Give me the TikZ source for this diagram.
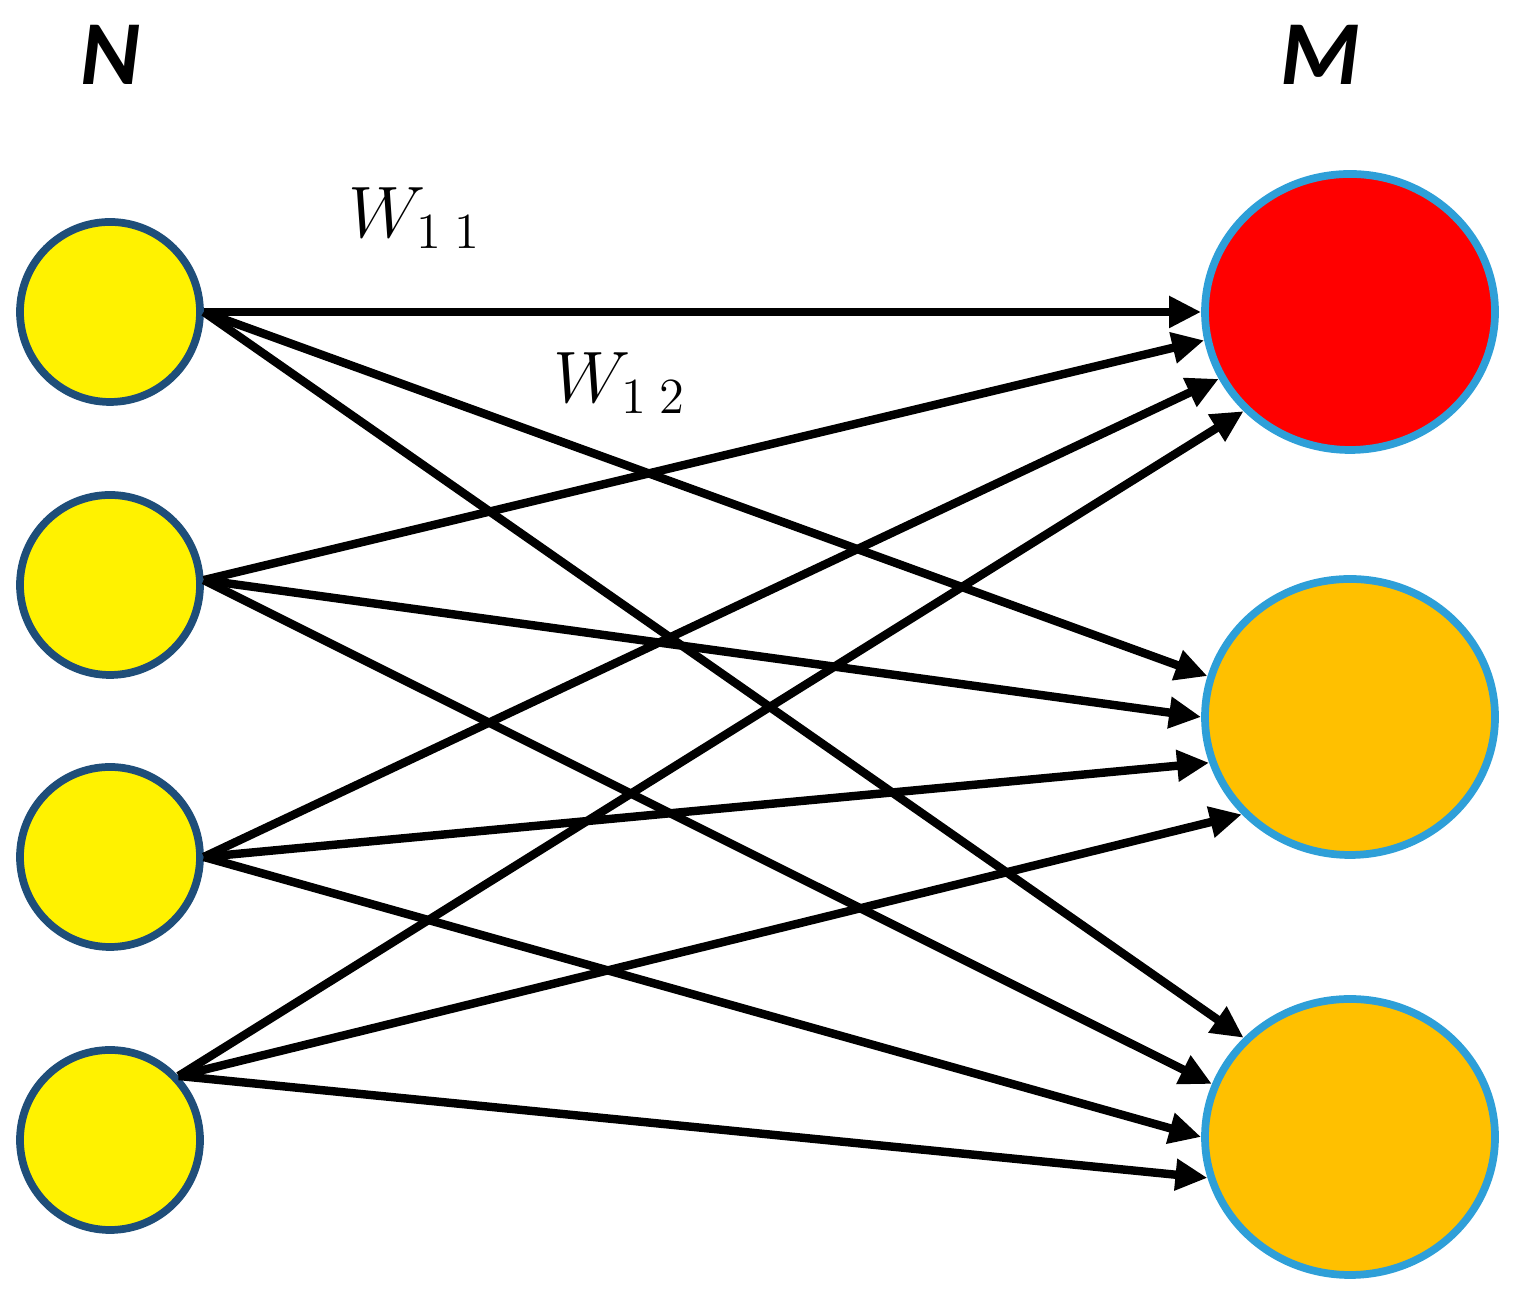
\documentclass[tikz,border=0pt]{standalone}
\usepackage{fontspec}
\setmainfont{Carlito}
\usetikzlibrary{arrows.meta,shapes.geometric}
\definecolor{inborder}{HTML}{1F4E79}
\definecolor{outborder}{HTML}{2E9FD8}
\definecolor{outorange}{HTML}{FFC000}
\begin{document}
\begin{tikzpicture}
  \useasboundingbox (0,0) rectangle (15.19,13.03);
  \tikzset{
    innode/.style={circle,draw=inborder,line width=2.2pt,fill=yellow,minimum size=1.8cm},
    outnode/.style={ellipse,draw=outborder,line width=2.2pt,minimum width=2.9cm,minimum height=2.76cm},
    weight/.style={black,line width=2.4pt,-{Triangle[length=0.32cm,width=0.3cm]}}
  }

  \node [innode] (n1) at (1.1,9.91) {};
  \node [innode] (n2) at (1.1,7.18) {};
  \node [innode] (n3) at (1.1,4.46) {};
  \node [innode] (n4) at (1.1,1.63) {};

  \node [outnode,fill=red] (m1) at (13.5,9.91) {};
  \node [outnode,fill=outorange] (m2) at (13.5,5.86) {};
  \node [outnode,fill=outorange] (m3) at (13.5,1.66) {};

  \node at (1.1,12.48) {\fontsize{26}{29}\selectfont\bfseries\itshape N};
  \node at (13.2,12.48) {\fontsize{26}{29}\selectfont\bfseries\itshape M};

  \foreach \src/\sa/\ta/\tb/\tc in {n1/0/180/164/137, n2/3/191/180/159, n3/0/207/198/180, n4/43/223/222/196} {
    \draw [weight] (\src.\sa) -- (m1.\ta);
    \draw [weight] (\src.\sa) -- (m2.\tb);
    \draw [weight] (\src.\sa) -- (m3.\tc);
  }

  \node (w11) at (4.15,10.85) {\fontsize{20}{23}\selectfont$W_{1\;1}$};
  \node (w12) at (6.2,9.2) {\fontsize{20}{23}\selectfont$W_{1\;2}$};
\end{tikzpicture}
\end{document}
